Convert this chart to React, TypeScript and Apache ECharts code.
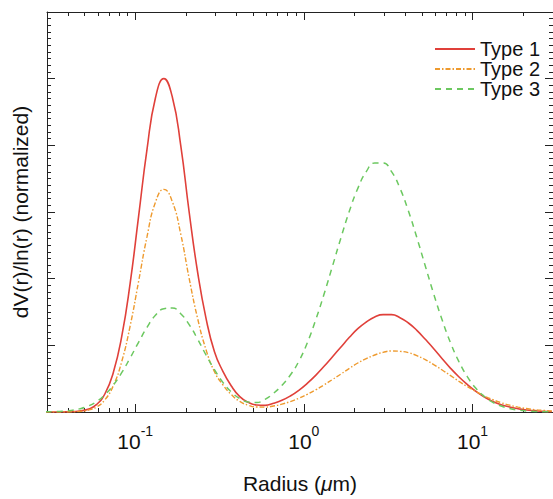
import React, { useEffect, useRef } from "react";
import * as echarts from "echarts";

// Radius grid (µm), log-spaced
const radius = [
  0.02951, 0.03311, 0.03715, 0.04169, 0.04677, 0.05248, 0.05888, 0.06607, 0.07413, 0.08318,
  0.09333, 0.1047, 0.1175, 0.1318, 0.1479, 0.166, 0.1862, 0.2089, 0.2344, 0.263,
  0.2951, 0.3311, 0.3715, 0.4169, 0.4677, 0.5248, 0.5888, 0.6607, 0.7413, 0.8318,
  0.9333, 1.047, 1.175, 1.318, 1.479, 1.66, 1.862, 2.089, 2.344, 2.63,
  2.951, 3.311, 3.715, 4.169, 4.677, 5.248, 5.888, 6.607, 7.413, 8.318,
  9.333, 10.47, 11.75, 13.18, 14.79, 16.6, 18.62, 20.89, 23.44, 26.3, 29.51,
];

const type1 = [
  0, 0, 0.0002, 0.0008, 0.003, 0.008, 0.022, 0.054, 0.118, 0.226,
  0.386, 0.586, 0.788, 0.942, 1.0, 0.945, 0.8, 0.6, 0.42, 0.281,
  0.181, 0.122, 0.078, 0.046, 0.029, 0.021, 0.02, 0.026, 0.035, 0.048,
  0.065, 0.086, 0.11, 0.137, 0.166, 0.195, 0.224, 0.25, 0.27, 0.285,
  0.292, 0.292, 0.283, 0.267, 0.245, 0.218, 0.19, 0.16, 0.131, 0.105,
  0.082, 0.062, 0.045, 0.032, 0.022, 0.015, 0.01, 0.006, 0.004, 0.002, 0.001,
];

const type2 = [
  0, 0, 0.0001, 0.0005, 0.0017, 0.0054, 0.0149, 0.0363, 0.0786, 0.151,
  0.258, 0.391, 0.526, 0.629, 0.668, 0.631, 0.534, 0.401, 0.281, 0.187,
  0.121, 0.0815, 0.0524, 0.0318, 0.0204, 0.015, 0.0147, 0.0179, 0.0236, 0.0313,
  0.0412, 0.0529, 0.0664, 0.0814, 0.0976, 0.114, 0.131, 0.147, 0.16, 0.171,
  0.179, 0.183, 0.182, 0.178, 0.169, 0.157, 0.142, 0.126, 0.109, 0.092,
  0.076, 0.0615, 0.048, 0.037, 0.028, 0.0205, 0.0147, 0.0103, 0.007, 0.0047, 0.0031,
];

const type3 = [
  0.0004, 0.001, 0.0022, 0.0047, 0.0094, 0.0176, 0.0311, 0.0517, 0.0805, 0.118,
  0.162, 0.209, 0.254, 0.29, 0.31, 0.312, 0.295, 0.262, 0.219, 0.171,
  0.127, 0.089, 0.06, 0.0405, 0.0302, 0.0285, 0.038, 0.056, 0.08, 0.111,
  0.152, 0.207, 0.276, 0.354, 0.438, 0.523, 0.603, 0.671, 0.721, 0.747,
  0.747, 0.721, 0.671, 0.603, 0.523, 0.438, 0.354, 0.276, 0.207, 0.1505,
  0.1054, 0.0712, 0.0465, 0.0293, 0.0178, 0.0104, 0.0059, 0.0032, 0.0017, 0.0009, 0.0004,
];

const seriesNames = ["Type 1", "Type 2", "Type 3"];
const xMajorTicks = [0.1, 1, 10];
const xMinorTicks = [
  0.04, 0.05, 0.06, 0.07, 0.08, 0.09,
  0.2, 0.3, 0.4, 0.5, 0.6, 0.7, 0.8, 0.9,
  2, 3, 4, 5, 6, 7, 8, 9, 20,
];

export default function App() {
  const ref = useRef<HTMLDivElement>(null);

  useEffect(() => {
    if (!ref.current) return;
    const chart = echarts.init(ref.current, null, { renderer: "svg" });
    const font = "'Liberation Sans', Arial, sans-serif";
    const axisColor = "#222";

    const baseX: any = {
      type: "log",
      logBase: 10,
      min: 0.03,
      max: 30,
      gridIndex: 0,
      splitLine: { show: false },
      minorSplitLine: { show: false },
    };

    const pair = (vals: number[]) => radius.map((r, i) => [r, vals[i]]);

    const option: any = {
      animation: false,
      backgroundColor: "#fff",
      grid: { left: 47, top: 12, width: 510, height: 413, containLabel: false },
      legend: {
        orient: "vertical",
        left: 429,
        top: 34,
        itemWidth: 40,
        itemHeight: 14,
        itemGap: 0,
        itemStyle: { opacity: 0 },
        textStyle: { fontSize: 20, lineHeight: 19, color: "#111", fontFamily: font },
        data: seriesNames,
      },
      xAxis: [
        {
          ...baseX,
          position: "bottom",
          axisLine: { show: true, onZero: false, lineStyle: { color: axisColor, width: 1 } },
          axisTick: { show: true, inside: true, length: 8, customValues: xMajorTicks, lineStyle: { color: axisColor } },
          axisLabel: {
            show: true,
            customValues: xMajorTicks,
            margin: 12,
            formatter: (v: number) => `{b|10}{s|${Math.round(Math.log10(v))}}`,
            rich: {
              b: { fontSize: 21, fontFamily: font, color: "#111", lineHeight: 28, verticalAlign: "bottom" },
              s: { fontSize: 14, fontFamily: font, color: "#111", verticalAlign: "top", lineHeight: 14 },
            },
          },
          name: "{n|Radius (}{i|μ}{n|m)}",
          nameLocation: "middle",
          nameGap: 61,
          nameTextStyle: {
            rich: {
              n: { fontSize: 21, fontFamily: font, color: "#111" },
              i: { fontSize: 21, fontFamily: font, color: "#111", fontStyle: "italic" },
            },
          },
        },
        {
          ...baseX,
          position: "bottom",
          axisLine: { show: false, onZero: false },
          axisTick: { show: true, inside: true, length: 4, customValues: xMinorTicks, lineStyle: { color: axisColor } },
          axisLabel: { show: false },
        },
        {
          ...baseX,
          position: "top",
          axisLine: { show: true, onZero: false, lineStyle: { color: axisColor, width: 1 } },
          axisTick: { show: true, inside: true, length: 8, customValues: xMajorTicks, lineStyle: { color: axisColor } },
          axisLabel: { show: false },
        },
        {
          ...baseX,
          position: "top",
          axisLine: { show: false, onZero: false },
          axisTick: { show: true, inside: true, length: 4, customValues: xMinorTicks, lineStyle: { color: axisColor } },
          axisLabel: { show: false },
        },
      ],
      yAxis: [
        {
          type: "value",
          min: 0,
          max: 1.2,
          interval: 0.2,
          position: "left",
          axisLine: { show: true, onZero: false, lineStyle: { color: axisColor, width: 1 } },
          axisTick: { show: true, inside: true, length: 8, lineStyle: { color: axisColor } },
          minorTick: { show: true, splitNumber: 10, length: 4, lineStyle: { color: axisColor } },
          axisLabel: { show: false },
          splitLine: { show: false },
          minorSplitLine: { show: false },
          name: "dV(r)/ln(r) (normalized)",
          nameLocation: "middle",
          nameGap: 16,
          nameRotate: 90,
          nameTextStyle: { fontSize: 21, fontFamily: font, color: "#111" },
        },
        {
          type: "value",
          min: 0,
          max: 1.2,
          interval: 0.2,
          position: "right",
          axisLine: { show: true, onZero: false, lineStyle: { color: axisColor, width: 1 } },
          axisTick: { show: true, inside: true, length: 8, lineStyle: { color: axisColor } },
          minorTick: { show: true, splitNumber: 10, length: 4, lineStyle: { color: axisColor } },
          axisLabel: { show: false },
          splitLine: { show: false },
          minorSplitLine: { show: false },
        },
      ],
      series: [
        {
          name: seriesNames[0],
          type: "line",
          xAxisIndex: 0,
          yAxisIndex: 0,
          data: pair(type1),
          smooth: true,
          symbol: "none",
          clip: true,
          lineStyle: { color: "#e0403a", width: 1.6, type: "solid" },
          itemStyle: { color: "#e0403a" },
        },
        {
          name: seriesNames[1],
          type: "line",
          xAxisIndex: 0,
          yAxisIndex: 0,
          data: pair(type2),
          smooth: true,
          symbol: "none",
          clip: true,
          lineStyle: { color: "#ee9a2e", width: 1.4, type: [5, 2, 1.5, 2] },
          itemStyle: { color: "#ee9a2e" },
        },
        {
          name: seriesNames[2],
          type: "line",
          xAxisIndex: 0,
          yAxisIndex: 0,
          data: pair(type3),
          smooth: true,
          symbol: "none",
          clip: true,
          lineStyle: { color: "#6cc860", width: 1.5, type: [6, 5] },
          itemStyle: { color: "#6cc860" },
        },
      ],
    };

    chart.setOption(option);
    return () => chart.dispose();
  }, []);

  return (
    <div
      ref={ref}
      style={{ position: "absolute", left: 0, top: 0, width: 553, height: 499, background: "#fff" }}
    />
  );
}
